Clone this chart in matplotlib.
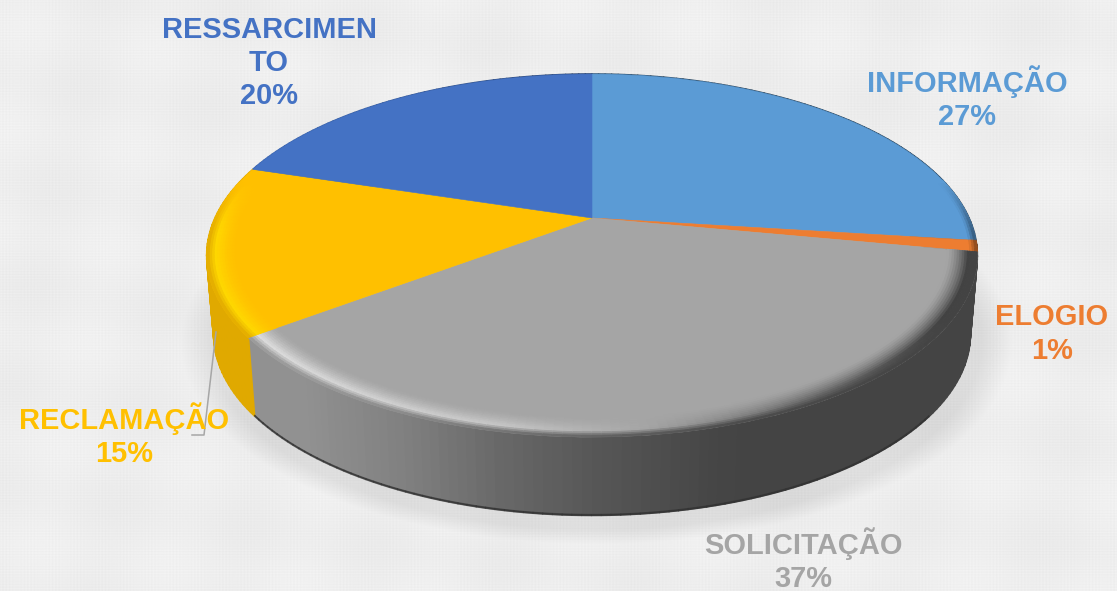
import numpy as np
import matplotlib
matplotlib.use("Agg")
import matplotlib.pyplot as plt
from matplotlib.collections import PolyCollection
from matplotlib.transforms import Transform

categories = ["INFORMAÇÃO", "ELOGIO", "SOLICITAÇÃO", "RECLAMAÇÃO", "RESSARCIMEN\nTO"]
values = [27, 1, 36.7, 15.1, 20.2]
colors = ["#5b9bd5", "#ed7d31", "#a5a5a5", "#ffc000", "#4472c4"]
light_colors = ["#7fb4e3", "#ff9a50", "#dedede", "#ffd800", "#6a90d8"]
label_centers = [(967, 98), (1052, 334), (803, 560), (124, 435), (269, 63)]

W, H = 1117, 591
CX, CY, RX, RY, K = 592.0, 218.0, 377.0, 173.7, 0.2066
DEPTH, BOTTOM_SCALE = 78.5, 0.982


def project(x, y, bottom=False):
    x, y = np.asarray(x, float), np.asarray(y, float)
    d = 1 + K * y
    px, py = RX * x / d, -RY * y / d
    if bottom:
        return CX + px * BOTTOM_SCALE, CY + py + DEPTH
    return CX + px, CY + py


class Persp(Transform):
    input_dims = output_dims = 2
    is_separable = False
    has_inverse = False

    def transform_non_affine(self, v):
        v = np.asarray(v, float)
        px, py = project(v[:, 0], v[:, 1])
        return np.column_stack([px, py])


def to_rgb(c):
    return np.array(matplotlib.colors.to_rgb(c))


def side_factor(x):
    return np.interp(x, [250, 400, 500, 600, 720, 760], [.93, .78, .63, .52, .42, .41])


def edge_factor(x):
    return np.interp(x, [250, 500, 650, 800, 950], [1.33, 1.2, 1.0, .68, .40])


def edge_color(i, x):
    f = float(edge_factor(x))
    base, li = to_rgb(colors[i]), to_rgb(light_colors[i])
    if f >= 1:
        return base + (f - 1) / .33 * (li - base)
    return base * f


fig = plt.figure(figsize=(W / 100, H / 100), dpi=100)
ax = fig.add_axes([0, 0, 1, 1])

# textured backdrop with soft shadow
yy, xx = np.mgrid[0:H, 0:W]
tex = (np.sin(xx * 1.9) * np.sin(xx * .13 + 1) + np.sin(yy * 2.3) * np.sin(yy * .17 + 2)
       + .8 * np.sin(xx * .047 + yy * .011) + .8 * np.sin(yy * .061 - xx * .009))
bg = 0.93 + 0.0075 * tex
dist = np.sqrt(((xx - CX - 4) / 385) ** 2 + ((yy - 343) / 186) ** 2)
bg = bg - 0.07 * np.clip((1.08 - dist) / .08, 0, 1)
ax.imshow(bg, cmap="gray", vmin=0, vmax=1, extent=(0, W, H, 0), aspect="auto",
          interpolation="bilinear", zorder=0)

# top faces from the library's pie, seen through the perspective projection
wedges, _ = ax.pie(values, colors=colors, startangle=90, counterclock=False, radius=1,
                   wedgeprops=dict(edgecolor="none", linewidth=0))
persp = Persp() + ax.transData
for w, c in zip(wedges, colors):
    w.set_transform(persp)
    w.set_edgecolor(c)
    w.set_linewidth(.4)
    w.set_zorder(3)

# side wall and rim bevel
fracs = np.cumsum([0] + values) / float(sum(values))
side_polys, side_cols, bev_polys, bev_cols = [], [], [], []
lower_rim = []
N_T = 12
for i in range(len(values)):
    a0, a1 = np.deg2rad(90 - 360 * fracs[i]), np.deg2rad(90 - 360 * fracs[i + 1])
    n = max(3, int(abs(a1 - a0) / np.deg2rad(1.2)))
    angs = np.linspace(a0, a1, n + 1)
    for s, e in zip(angs[:-1], angs[1:]):
        cs, ce = np.cos([s, e]), np.sin([s, e])
        tx, ty = project(cs, ce)
        bx, by = project(cs, ce, bottom=True)
        midx = tx.mean()
        side = to_rgb(colors[i]) * min(float(side_factor(midx)), .88)
        side_polys.append([(tx[0], ty[0]), (tx[1], ty[1]), (bx[1], by[1]), (bx[0], by[0])])
        side_cols.append(side)
        ym = ce.mean()
        if ym < -.6 and i == 2:
            lower_rim.append([(bx[0], by[0] - 1), (bx[1], by[1] - 1), (bx[1], by[1]), (bx[0], by[0])])
        weight = float(np.clip((0.22 - ym) / .30, 0, 1))
        if weight <= 0:
            continue
        base = to_rgb(colors[i])
        edge = edge_color(i, midx)
        for k in range(N_T):
            t0, t1 = k / N_T, (k + 1) / N_T
            tm = (t0 + t1) / 2
            if i in (0, 1):
                # the right-hand slices only darken in a thin outer line
                if tm < .75:
                    continue
                col = base + (base * .55 - base) * ((tm - .75) / .25)
            elif tm < .7:
                col = base + (edge - base) * (tm / .7) ** 1.5
            else:
                col = edge + (side - edge) * ((tm - .7) / .3)
            col = base + (col - base) * weight
            r0, r1 = .925 + .075 * t0, .925 + .075 * t1
            ax0, ay0 = project(r0 * cs, r0 * ce)
            ax1, ay1 = project(r1 * cs, r1 * ce)
            bev_polys.append([(ax0[0], ay0[0]), (ax0[1], ay0[1]), (ax1[1], ay1[1]), (ax1[0], ay1[0])])
            bev_cols.append(np.clip(col, 0, 1))

ax.add_collection(PolyCollection(side_polys, facecolors=side_cols, edgecolors=side_cols,
                                 linewidths=1.2, zorder=2))
ax.add_collection(PolyCollection(lower_rim, facecolors="#333333", edgecolors="#333333",
                                 linewidths=.8, alpha=.7, zorder=2.1))
ax.add_collection(PolyCollection(bev_polys, facecolors=bev_cols, edgecolors=bev_cols,
                                 linewidths=.6, zorder=4))

# leader line for the RECLAMAÇÃO label
ax.plot([216, 204, 192], [332, 435, 435], color="#a6a6a6", lw=1.1, zorder=5)

for cat, val, col, (lx, ly) in zip(categories, values, colors, label_centers):
    ax.text(lx, ly, f"{cat}\n{val:.0f}%", color=col, ha="center", va="center", fontsize=20.9,
            fontweight="bold", family="Liberation Sans", linespacing=1.25, zorder=6,
            clip_on=True)

ax.set_aspect("auto")
ax.set_xlim(0, W)
ax.set_ylim(H, 0)
ax.axis("off")
fig.savefig("out.png", dpi=100)
